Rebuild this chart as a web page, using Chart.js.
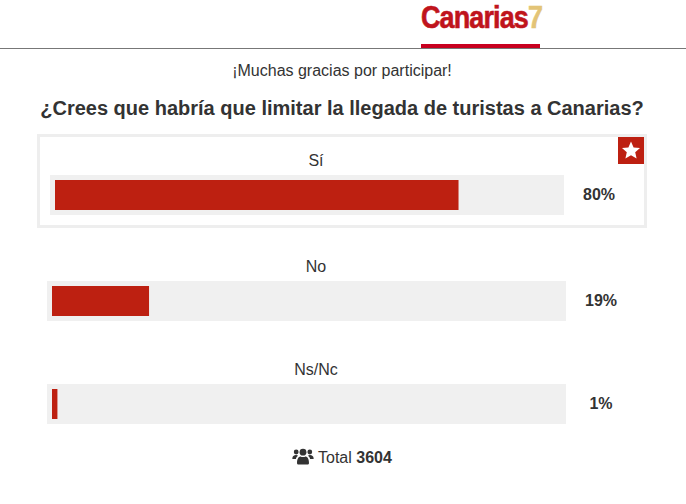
<!DOCTYPE html>
<html lang="es">
<head>
<meta charset="utf-8">
<title>Encuesta Canarias7</title>
<script src="https://cdn.jsdelivr.net/npm/chart.js@4/dist/chart.umd.min.js"></script>
<style>
    html, body { margin: 0; padding: 0; background: #fff; }
    body { position: relative; width: 686px; height: 504px; overflow: hidden; font-family: "Liberation Sans", Arial, sans-serif; color: #333; }
    .abs { position: absolute; white-space: nowrap; }
    .centrado { text-align: center; }
    #linea { left: 0; top: 48px; width: 686px; height: 1px; background: #777; }
    #rojo { left: 421px; top: 44px; width: 119px; height: 4px; background: #c8001f; }
    #logo { left: 421px; top: 0; font-size: 31px; line-height: 36px; font-weight: bold; color: #c0141c; letter-spacing: -1px; -webkit-text-stroke: 0.6px currentColor; transform: scaleX(0.87); transform-origin: left top; }
    #logo span { color: #e3c477; }
    #gracias { left: -1px; width: 686px; top: 61px; font-size: 16px; line-height: 20px; }
    #pregunta { left: -1px; width: 686px; top: 96px; font-size: 20px; line-height: 24px; font-weight: bold; }
    #caja { left: 37px; top: 134px; width: 604px; height: 88px; border: 3px solid #eee; }
    #estrella { left: 618px; top: 137px; width: 26px; height: 27px; background: #bd2011; }
    .opcion { font-size: 16px; line-height: 20px; }
    .pct { font-size: 16px; line-height: 20px; font-weight: bold; width: 70px; }
    .pista { background: #f0f0f0; }
    #total { left: 318px; top: 448px; font-size: 16px; line-height: 20px; }
</style>
</head>
<body>
<div class="abs" id="logo">Canarias<span>7</span></div>
<div class="abs" id="rojo"></div>
<div class="abs" id="linea"></div>
<div class="abs centrado" id="gracias">¡Muchas gracias por participar!</div>
<div class="abs centrado" id="pregunta">¿Crees que habría que limitar la llegada de turistas a Canarias?</div>
<div class="abs" id="caja"></div>
<div class="abs" id="estrella">
    <svg width="26" height="27" viewBox="0 0 26 27"><polygon fill="#fff" points="13,4.5 15.6,10.4 22,11 17.2,15.2 18.6,21.5 13,18.2 7.4,21.5 8.8,15.2 4,11 10.4,10.4"/></svg>
</div>
<svg class="abs" style="left:292px;top:448px" width="22" height="17" viewBox="0 0 22 17" fill="#333">
    <circle cx="4.2" cy="4" r="2.4"/><circle cx="17.8" cy="4" r="2.4"/><circle cx="11" cy="4.2" r="3.4"/>
    <path d="M0.3 11 C0.3 8 2 7 4 7 C5 7 5.6 7.3 6 7.7 C4.8 8.6 4 9.8 3.9 11 Z"/>
    <path d="M21.7 11 C21.7 8 20 7 18 7 C17 7 16.4 7.3 16 7.7 C17.2 8.6 18 9.8 18.1 11 Z"/>
    <path d="M5 15 C5 10.5 7 8.5 8.5 8.5 C9.5 9.2 12.5 9.2 13.5 8.5 C15 8.5 17 10.5 17 15 C17 16 16.2 16.5 15.5 16.5 L6.5 16.5 C5.8 16.5 5 16 5 15 Z"/>
</svg>
<div class="abs" id="total">Total <b>3604</b></div>

<script>
const opciones = ['Sí', 'No', 'Ns/Nc'];
const porcentajes = [80, 19, 1];
const totalVotos = 3604;

// posicion de cada fila en la pagina
const filas = [
    { x: 50, y: 175, ancho: 514, etiquetaX: 281, etiquetaY: 151, pctX: 564 },
    { x: 47, y: 281, ancho: 519, etiquetaX: 281, etiquetaY: 257, pctX: 566 },
    { x: 47, y: 384, ancho: 519, etiquetaX: 281, etiquetaY: 360, pctX: 566 }
];

const crearTexto = (clase, texto, left, top, ancho) => {
    const el = document.createElement('div');
    el.className = 'abs centrado ' + clase;
    el.textContent = texto;
    el.style.left = left + 'px';
    el.style.top = top + 'px';
    el.style.width = ancho + 'px';
    document.body.appendChild(el);
};

opciones.forEach((opcion, i) => {
    const fila = filas[i];
    crearTexto('opcion', opcion, fila.etiquetaX, fila.etiquetaY, 70);
    crearTexto('pct', porcentajes[i] + '%', fila.pctX, fila.y + 10, 70);

    const pista = document.createElement('div');
    pista.className = 'abs pista';
    pista.style.left = fila.x + 'px';
    pista.style.top = fila.y + 'px';
    pista.style.width = fila.ancho + 'px';
    pista.style.height = '40px';
    const lienzo = document.createElement('canvas');
    pista.appendChild(lienzo);
    document.body.appendChild(pista);

    new Chart(lienzo, {
        type: 'bar',
        data: {
            labels: [opcion],
            datasets: [{
                data: [porcentajes[i]],
                backgroundColor: '#bd2011',
                borderWidth: 0,
                barThickness: 30
            }]
        },
        options: {
            indexAxis: 'y',
            responsive: true,
            maintainAspectRatio: false,
            animation: false,
            layout: { padding: 5 },
            plugins: { legend: { display: false }, tooltip: { enabled: false } },
            scales: {
                x: { display: false, min: 0, max: 100 },
                y: { display: false }
            }
        }
    });
});
</script>
</body>
</html>
